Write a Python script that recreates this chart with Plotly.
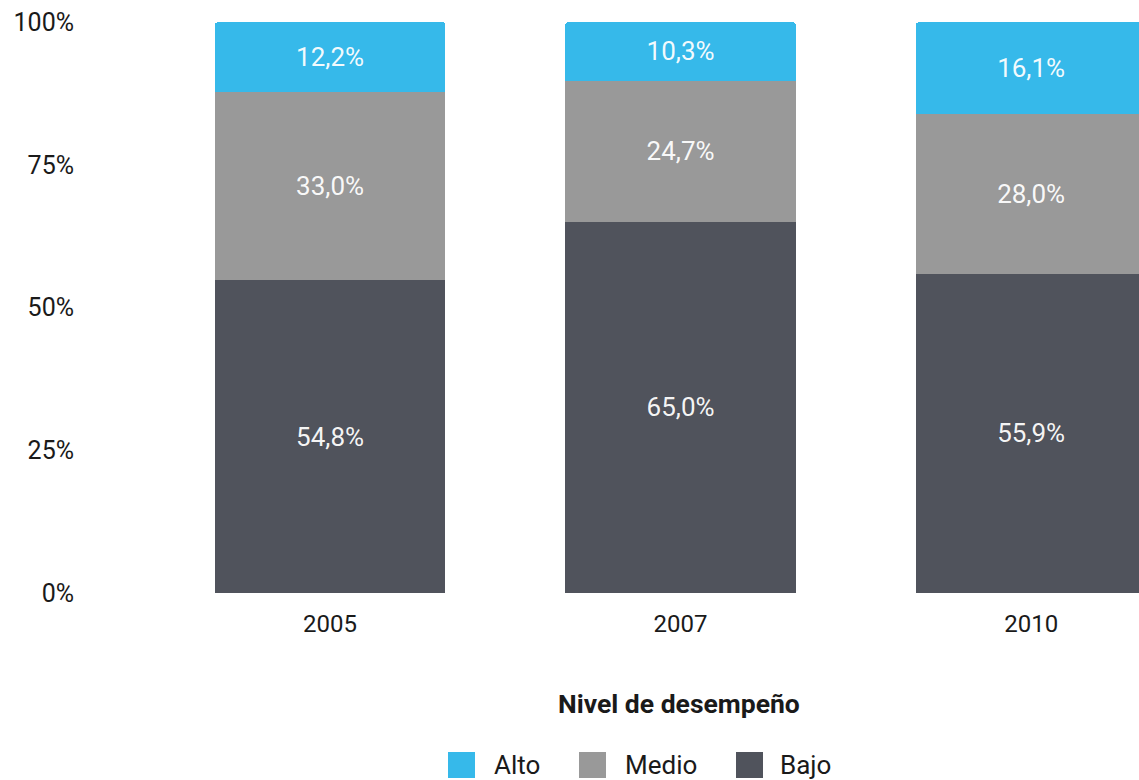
import plotly.graph_objects as go

# ---- data ----
years = ["2005", "2007", "2010"]
bajo = [54.8, 65.0, 55.9]
medio = [33.0, 24.7, 28.0]
alto = [12.2, 10.3, 16.1]
series_names = ["Bajo", "Medio", "Alto"]
series_colors = ["#50535C", "#999999", "#36B9EA"]
ytick_vals = [0, 25, 50, 75, 100]
ytick_text = ["0%", "25%", "50%", "75%", "100%"]
legend_title = "Nivel de desempeño"
legend_order = ["Alto", "Medio", "Bajo"]

# ---- layout geometry ----
W, H = 1139, 780
L, R, T, B = 95, 0, 22, 187
PW, PH = W - L - R, H - T - B


def px(x):
    return (x - L) / PW


def py(y):
    return (H - B - y) / PH


fig = go.Figure()
for name, vals, col in zip(series_names, [bajo, medio, alto], series_colors):
    fig.add_bar(
        x=years, y=vals, name=name,
        marker=dict(color=col, line=dict(width=0)),
        width=0.658,
        texttemplate="%{y:.1f}%",
        textposition="inside",
        insidetextanchor="middle",
        textangle=0,
        textfont=dict(color="rgba(255,255,255,0.95)", size=26, family="Roboto"),
        showlegend=False,
        hoverinfo="skip",
    )

# manual legend
color_of = dict(zip(series_names, series_colors))
legend_sq_x = [448, 579, 736]
legend_tx_x = [492, 623, 778]
legend_y = 765
shapes = []
annotations = [
    dict(text="<b>" + legend_title + "</b>", x=px(679), y=py(703), xref="paper", yref="paper",
         showarrow=False, xanchor="center", yanchor="middle",
         font=dict(size=26.5, family="Roboto", color="#1a1a1a"))
]
for nm, sx, tx in zip(legend_order, legend_sq_x, legend_tx_x):
    shapes.append(dict(type="rect", xref="paper", yref="paper",
                       x0=px(sx), x1=px(sx + 27), y0=py(legend_y + 13), y1=py(legend_y - 13),
                       fillcolor=color_of[nm], line=dict(width=0)))
    annotations.append(dict(text=nm, x=px(tx), y=py(legend_y), xref="paper", yref="paper",
                            showarrow=False, xanchor="left", yanchor="middle",
                            font=dict(size=26, family="Roboto", color="#1a1a1a")))

fig.update_layout(
    width=W, height=H,
    margin=dict(l=L, r=R, t=T, b=B, pad=0),
    barmode="stack",
    barcornerradius=4,
    separators=",.",
    paper_bgcolor="white", plot_bgcolor="white",
    font=dict(family="Roboto", size=24, color="#1a1a1a"),
    showlegend=False,
    shapes=shapes,
    annotations=annotations,
    xaxis=dict(type="category", range=[-0.6705, 2.3077], showgrid=False, zeroline=False,
               showline=False, ticks="", ticklabelstandoff=14,
               tickfont=dict(size=24, family="Roboto", color="#1a1a1a")),
    yaxis=dict(range=[0, 100], tickmode="array", tickvals=ytick_vals, ticktext=ytick_text,
               showgrid=False, zeroline=False, showline=False, ticks="", ticklabelstandoff=20,
               tickfont=dict(size=25, family="Roboto", color="#1a1a1a")),
)

fig.write_html(
    "out.html",
    config={"displayModeBar": False},
    post_script="document.body.style.margin='0';document.body.style.padding='0';"
                "document.body.style.overflow='hidden';",
)
